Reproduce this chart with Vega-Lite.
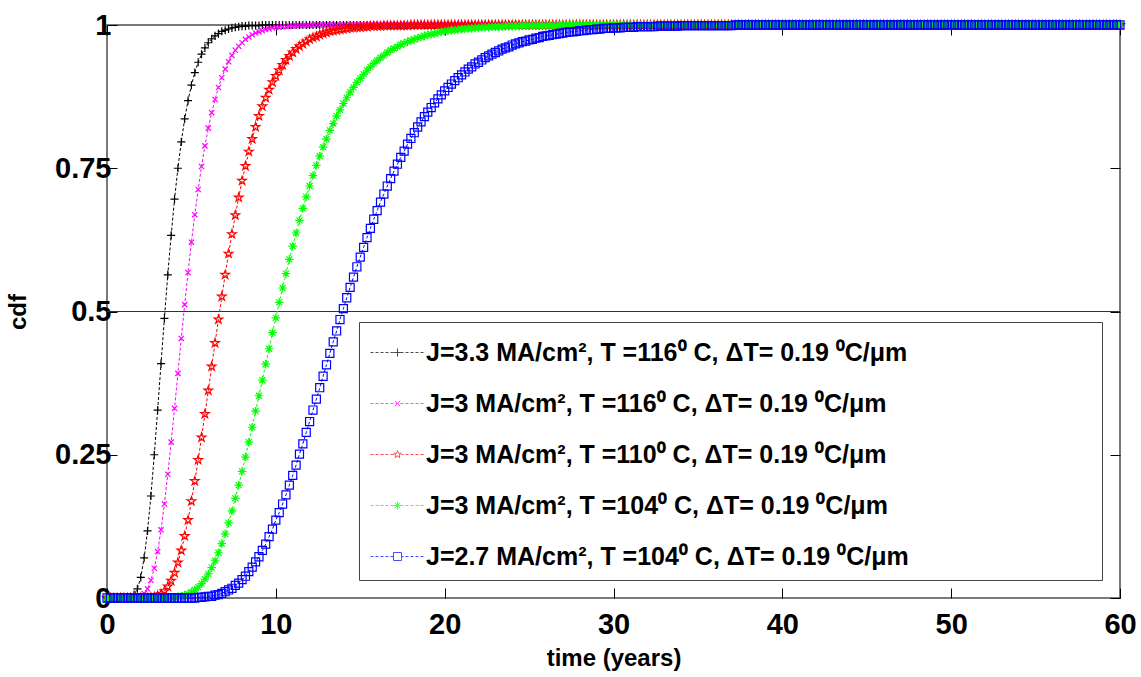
{
"$schema":"https://vega.github.io/schema/vega-lite/v6.json",
"width":1013,"height":573,
"autosize":{"type":"none"},
"padding":{"left":107,"top":25,"right":21,"bottom":79},
"background":"white",
"config":{"view":{"stroke":"#4d4d4d","strokeWidth":1.5},"font":"Liberation Sans","axis":{"labelFont":"Liberation Sans","titleFont":"Liberation Sans"}},
"data":{"values":[
{"t":0,"a":0,"b":0,"c":0,"d":0,"e":0},
{"t":0.2,"a":0,"b":0,"c":0,"d":0,"e":0},
{"t":0.4,"a":0,"b":0,"c":0,"d":0,"e":0},
{"t":0.6,"a":0,"b":0,"c":0,"d":0,"e":0},
{"t":0.8,"a":0,"b":0,"c":0,"d":0,"e":0},
{"t":1,"a":0,"b":0,"c":0,"d":0,"e":0},
{"t":1.2,"a":0,"b":0,"c":0,"d":0,"e":0},
{"t":1.4,"a":0.001,"b":0,"c":0,"d":0,"e":0},
{"t":1.6,"a":0.006,"b":0,"c":0,"d":0,"e":0},
{"t":1.8,"a":0.016,"b":0.001,"c":0,"d":0,"e":0},
{"t":2,"a":0.036,"b":0.003,"c":0,"d":0,"e":0},
{"t":2.2,"a":0.07,"b":0.008,"c":0,"d":0,"e":0},
{"t":2.4,"a":0.117,"b":0.016,"c":0,"d":0,"e":0},
{"t":2.6,"a":0.178,"b":0.031,"c":0.001,"d":0,"e":0},
{"t":2.8,"a":0.25,"b":0.052,"c":0.002,"d":0,"e":0},
{"t":3,"a":0.328,"b":0.081,"c":0.004,"d":0,"e":0},
{"t":3.2,"a":0.409,"b":0.119,"c":0.007,"d":0,"e":0},
{"t":3.4,"a":0.488,"b":0.164,"c":0.012,"d":0,"e":0},
{"t":3.6,"a":0.564,"b":0.216,"c":0.02,"d":0,"e":0},
{"t":3.8,"a":0.633,"b":0.272,"c":0.03,"d":0.001,"e":0},
{"t":4,"a":0.696,"b":0.331,"c":0.044,"d":0.001,"e":0},
{"t":4.2,"a":0.75,"b":0.392,"c":0.062,"d":0.002,"e":0},
{"t":4.4,"a":0.796,"b":0.453,"c":0.083,"d":0.003,"e":0},
{"t":4.6,"a":0.836,"b":0.512,"c":0.108,"d":0.005,"e":0},
{"t":4.8,"a":0.868,"b":0.568,"c":0.136,"d":0.007,"e":0},
{"t":5,"a":0.895,"b":0.621,"c":0.169,"d":0.01,"e":0},
{"t":5.2,"a":0.917,"b":0.669,"c":0.204,"d":0.014,"e":0},
{"t":5.4,"a":0.935,"b":0.713,"c":0.241,"d":0.019,"e":0.001},
{"t":5.6,"a":0.949,"b":0.753,"c":0.28,"d":0.025,"e":0.001},
{"t":5.8,"a":0.96,"b":0.789,"c":0.321,"d":0.033,"e":0.002},
{"t":6,"a":0.969,"b":0.82,"c":0.362,"d":0.042,"e":0.003},
{"t":6.2,"a":0.976,"b":0.847,"c":0.404,"d":0.053,"e":0.003},
{"t":6.4,"a":0.981,"b":0.87,"c":0.445,"d":0.065,"e":0.005},
{"t":6.6,"a":0.985,"b":0.891,"c":0.486,"d":0.079,"e":0.006},
{"t":6.8,"a":0.989,"b":0.908,"c":0.526,"d":0.095,"e":0.008},
{"t":7,"a":0.991,"b":0.923,"c":0.564,"d":0.112,"e":0.011},
{"t":7.2,"a":0.993,"b":0.936,"c":0.601,"d":0.131,"e":0.014},
{"t":7.4,"a":0.995,"b":0.947,"c":0.635,"d":0.152,"e":0.017},
{"t":7.6,"a":0.996,"b":0.956,"c":0.668,"d":0.174,"e":0.022},
{"t":7.8,"a":0.997,"b":0.963,"c":0.699,"d":0.197,"e":0.026},
{"t":8,"a":0.998,"b":0.969,"c":0.728,"d":0.221,"e":0.032},
{"t":8.2,"a":0.998,"b":0.975,"c":0.754,"d":0.246,"e":0.038},
{"t":8.4,"a":0.999,"b":0.979,"c":0.779,"d":0.272,"e":0.046},
{"t":8.6,"a":0.999,"b":0.983,"c":0.801,"d":0.298,"e":0.054},
{"t":8.8,"a":0.999,"b":0.986,"c":0.822,"d":0.326,"e":0.063},
{"t":9,"a":0.999,"b":0.988,"c":0.841,"d":0.353,"e":0.072},
{"t":9.2,"a":1,"b":0.99,"c":0.858,"d":0.38,"e":0.083},
{"t":9.4,"a":1,"b":0.992,"c":0.873,"d":0.408,"e":0.094},
{"t":9.6,"a":1,"b":0.993,"c":0.887,"d":0.435,"e":0.107},
{"t":9.8,"a":1,"b":0.995,"c":0.9,"d":0.463,"e":0.12},
{"t":10,"a":1,"b":0.996,"c":0.911,"d":0.489,"e":0.136},
{"t":10.2,"a":1,"b":0.996,"c":0.921,"d":0.516,"e":0.149},
{"t":10.4,"a":1,"b":0.997,"c":0.93,"d":0.541,"e":0.164},
{"t":10.6,"a":1,"b":0.997,"c":0.939,"d":0.566,"e":0.18},
{"t":10.8,"a":1,"b":0.998,"c":0.946,"d":0.591,"e":0.197},
{"t":11,"a":1,"b":0.998,"c":0.952,"d":0.614,"e":0.214},
{"t":11.2,"a":1,"b":0.999,"c":0.958,"d":0.637,"e":0.232},
{"t":11.4,"a":1,"b":0.999,"c":0.963,"d":0.659,"e":0.251},
{"t":11.6,"a":1,"b":0.999,"c":0.967,"d":0.68,"e":0.269},
{"t":11.8,"a":1,"b":0.999,"c":0.971,"d":0.7,"e":0.289},
{"t":12,"a":1,"b":0.999,"c":0.975,"d":0.719,"e":0.308},
{"t":12.2,"a":1,"b":1,"c":0.978,"d":0.737,"e":0.328},
{"t":12.4,"a":1,"b":1,"c":0.98,"d":0.755,"e":0.347},
{"t":12.6,"a":1,"b":1,"c":0.983,"d":0.771,"e":0.367},
{"t":12.8,"a":1,"b":1,"c":0.985,"d":0.787,"e":0.387},
{"t":13,"a":1,"b":1,"c":0.987,"d":0.801,"e":0.407},
{"t":13.2,"a":1,"b":1,"c":0.989,"d":0.816,"e":0.427},
{"t":13.4,"a":1,"b":1,"c":0.99,"d":0.828,"e":0.447},
{"t":13.6,"a":1,"b":1,"c":0.991,"d":0.841,"e":0.466},
{"t":13.8,"a":1,"b":1,"c":0.992,"d":0.852,"e":0.486},
{"t":14,"a":1,"b":1,"c":0.993,"d":0.863,"e":0.505},
{"t":14.2,"a":1,"b":1,"c":0.994,"d":0.873,"e":0.524},
{"t":14.4,"a":1,"b":1,"c":0.995,"d":0.883,"e":0.542},
{"t":14.6,"a":1,"b":1,"c":0.995,"d":0.891,"e":0.56},
{"t":14.8,"a":1,"b":1,"c":0.996,"d":0.9,"e":0.578},
{"t":15,"a":1,"b":1,"c":0.996,"d":0.907,"e":0.595},
{"t":15.2,"a":1,"b":1,"c":0.997,"d":0.914,"e":0.612},
{"t":15.4,"a":1,"b":1,"c":0.997,"d":0.921,"e":0.629},
{"t":15.6,"a":1,"b":1,"c":0.998,"d":0.927,"e":0.645},
{"t":15.8,"a":1,"b":1,"c":0.998,"d":0.933,"e":0.661},
{"t":16,"a":1,"b":1,"c":0.998,"d":0.938,"e":0.676},
{"t":16.2,"a":1,"b":1,"c":0.998,"d":0.943,"e":0.691},
{"t":16.4,"a":1,"b":1,"c":0.999,"d":0.947,"e":0.705},
{"t":16.6,"a":1,"b":1,"c":0.999,"d":0.952,"e":0.719},
{"t":16.8,"a":1,"b":1,"c":0.999,"d":0.956,"e":0.732},
{"t":17,"a":1,"b":1,"c":0.999,"d":0.959,"e":0.745},
{"t":17.2,"a":1,"b":1,"c":0.999,"d":0.962,"e":0.757},
{"t":17.4,"a":1,"b":1,"c":0.999,"d":0.966,"e":0.769},
{"t":17.6,"a":1,"b":1,"c":0.999,"d":0.968,"e":0.78},
{"t":17.8,"a":1,"b":1,"c":0.999,"d":0.971,"e":0.792},
{"t":18,"a":1,"b":1,"c":1,"d":0.973,"e":0.802},
{"t":18.2,"a":1,"b":1,"c":1,"d":0.975,"e":0.812},
{"t":18.4,"a":1,"b":1,"c":1,"d":0.977,"e":0.822},
{"t":18.6,"a":1,"b":1,"c":1,"d":0.979,"e":0.831},
{"t":18.8,"a":1,"b":1,"c":1,"d":0.981,"e":0.84},
{"t":19,"a":1,"b":1,"c":1,"d":0.983,"e":0.848},
{"t":19.2,"a":1,"b":1,"c":1,"d":0.984,"e":0.856},
{"t":19.4,"a":1,"b":1,"c":1,"d":0.985,"e":0.864},
{"t":19.6,"a":1,"b":1,"c":1,"d":0.987,"e":0.871},
{"t":19.8,"a":1,"b":1,"c":1,"d":0.988,"e":0.878},
{"t":20,"a":1,"b":1,"c":1,"d":0.989,"e":0.885},
{"t":20.2,"a":1,"b":1,"c":1,"d":0.99,"e":0.891},
{"t":20.4,"a":1,"b":1,"c":1,"d":0.991,"e":0.897},
{"t":20.6,"a":1,"b":1,"c":1,"d":0.991,"e":0.903},
{"t":20.8,"a":1,"b":1,"c":1,"d":0.992,"e":0.908},
{"t":21,"a":1,"b":1,"c":1,"d":0.993,"e":0.913},
{"t":21.2,"a":1,"b":1,"c":1,"d":0.993,"e":0.918},
{"t":21.4,"a":1,"b":1,"c":1,"d":0.994,"e":0.923},
{"t":21.6,"a":1,"b":1,"c":1,"d":0.994,"e":0.927},
{"t":21.8,"a":1,"b":1,"c":1,"d":0.995,"e":0.932},
{"t":22,"a":1,"b":1,"c":1,"d":0.995,"e":0.935},
{"t":22.2,"a":1,"b":1,"c":1,"d":0.996,"e":0.939},
{"t":22.4,"a":1,"b":1,"c":1,"d":0.996,"e":0.943},
{"t":22.6,"a":1,"b":1,"c":1,"d":0.996,"e":0.946},
{"t":22.8,"a":1,"b":1,"c":1,"d":0.997,"e":0.949},
{"t":23,"a":1,"b":1,"c":1,"d":0.997,"e":0.952},
{"t":23.2,"a":1,"b":1,"c":1,"d":0.997,"e":0.955},
{"t":23.4,"a":1,"b":1,"c":1,"d":0.997,"e":0.958},
{"t":23.6,"a":1,"b":1,"c":1,"d":0.998,"e":0.96},
{"t":23.8,"a":1,"b":1,"c":1,"d":0.998,"e":0.962},
{"t":24,"a":1,"b":1,"c":1,"d":0.998,"e":0.965},
{"t":24.2,"a":1,"b":1,"c":1,"d":0.998,"e":0.967},
{"t":24.4,"a":1,"b":1,"c":1,"d":0.998,"e":0.969},
{"t":24.6,"a":1,"b":1,"c":1,"d":0.999,"e":0.971},
{"t":24.8,"a":1,"b":1,"c":1,"d":0.999,"e":0.972},
{"t":25,"a":1,"b":1,"c":1,"d":0.999,"e":0.974},
{"t":25.2,"a":1,"b":1,"c":1,"d":0.999,"e":0.975},
{"t":25.4,"a":1,"b":1,"c":1,"d":0.999,"e":0.977},
{"t":25.6,"a":1,"b":1,"c":1,"d":0.999,"e":0.978},
{"t":25.8,"a":1,"b":1,"c":1,"d":0.999,"e":0.98},
{"t":26,"a":1,"b":1,"c":1,"d":0.999,"e":0.981},
{"t":26.2,"a":1,"b":1,"c":1,"d":0.999,"e":0.982},
{"t":26.4,"a":1,"b":1,"c":1,"d":0.999,"e":0.983},
{"t":26.6,"a":1,"b":1,"c":1,"d":0.999,"e":0.984},
{"t":26.8,"a":1,"b":1,"c":1,"d":1,"e":0.985},
{"t":27,"a":1,"b":1,"c":1,"d":1,"e":0.986},
{"t":27.2,"a":1,"b":1,"c":1,"d":1,"e":0.987},
{"t":27.4,"a":1,"b":1,"c":1,"d":1,"e":0.988},
{"t":27.6,"a":1,"b":1,"c":1,"d":1,"e":0.988},
{"t":27.8,"a":1,"b":1,"c":1,"d":1,"e":0.989},
{"t":28,"a":1,"b":1,"c":1,"d":1,"e":0.99},
{"t":28.2,"a":1,"b":1,"c":1,"d":1,"e":0.99},
{"t":28.4,"a":1,"b":1,"c":1,"d":1,"e":0.991},
{"t":28.6,"a":1,"b":1,"c":1,"d":1,"e":0.992},
{"t":28.8,"a":1,"b":1,"c":1,"d":1,"e":0.992},
{"t":29,"a":1,"b":1,"c":1,"d":1,"e":0.993},
{"t":29.2,"a":1,"b":1,"c":1,"d":1,"e":0.993},
{"t":29.4,"a":1,"b":1,"c":1,"d":1,"e":0.994},
{"t":29.6,"a":1,"b":1,"c":1,"d":1,"e":0.994},
{"t":29.8,"a":1,"b":1,"c":1,"d":1,"e":0.994},
{"t":30,"a":1,"b":1,"c":1,"d":1,"e":0.995},
{"t":30.2,"a":1,"b":1,"c":1,"d":1,"e":0.995},
{"t":30.4,"a":1,"b":1,"c":1,"d":1,"e":0.995},
{"t":30.6,"a":1,"b":1,"c":1,"d":1,"e":0.996},
{"t":30.8,"a":1,"b":1,"c":1,"d":1,"e":0.996},
{"t":31,"a":1,"b":1,"c":1,"d":1,"e":0.996},
{"t":31.2,"a":1,"b":1,"c":1,"d":1,"e":0.996},
{"t":31.4,"a":1,"b":1,"c":1,"d":1,"e":0.997},
{"t":31.6,"a":1,"b":1,"c":1,"d":1,"e":0.997},
{"t":31.8,"a":1,"b":1,"c":1,"d":1,"e":0.997},
{"t":32,"a":1,"b":1,"c":1,"d":1,"e":0.997},
{"t":32.2,"a":1,"b":1,"c":1,"d":1,"e":0.997},
{"t":32.4,"a":1,"b":1,"c":1,"d":1,"e":0.997},
{"t":32.6,"a":1,"b":1,"c":1,"d":1,"e":0.998},
{"t":32.8,"a":1,"b":1,"c":1,"d":1,"e":0.998},
{"t":33,"a":1,"b":1,"c":1,"d":1,"e":0.998},
{"t":33.2,"a":1,"b":1,"c":1,"d":1,"e":0.998},
{"t":33.4,"a":1,"b":1,"c":1,"d":1,"e":0.998},
{"t":33.6,"a":1,"b":1,"c":1,"d":1,"e":0.998},
{"t":33.8,"a":1,"b":1,"c":1,"d":1,"e":0.998},
{"t":34,"a":1,"b":1,"c":1,"d":1,"e":0.999},
{"t":34.2,"a":1,"b":1,"c":1,"d":1,"e":0.999},
{"t":34.4,"a":1,"b":1,"c":1,"d":1,"e":0.999},
{"t":34.6,"a":1,"b":1,"c":1,"d":1,"e":0.999},
{"t":34.8,"a":1,"b":1,"c":1,"d":1,"e":0.999},
{"t":35,"a":1,"b":1,"c":1,"d":1,"e":0.999},
{"t":35.2,"a":1,"b":1,"c":1,"d":1,"e":0.999},
{"t":35.4,"a":1,"b":1,"c":1,"d":1,"e":0.999},
{"t":35.6,"a":1,"b":1,"c":1,"d":1,"e":0.999},
{"t":35.8,"a":1,"b":1,"c":1,"d":1,"e":0.999},
{"t":36,"a":1,"b":1,"c":1,"d":1,"e":0.999},
{"t":36.2,"a":1,"b":1,"c":1,"d":1,"e":0.999},
{"t":36.4,"a":1,"b":1,"c":1,"d":1,"e":0.999},
{"t":36.6,"a":1,"b":1,"c":1,"d":1,"e":0.999},
{"t":36.8,"a":1,"b":1,"c":1,"d":1,"e":0.999},
{"t":37,"a":1,"b":1,"c":1,"d":1,"e":0.999},
{"t":37.2,"a":1,"b":1,"c":1,"d":1,"e":1},
{"t":37.4,"a":1,"b":1,"c":1,"d":1,"e":1},
{"t":37.6,"a":1,"b":1,"c":1,"d":1,"e":1},
{"t":37.8,"a":1,"b":1,"c":1,"d":1,"e":1},
{"t":38,"a":1,"b":1,"c":1,"d":1,"e":1},
{"t":38.2,"a":1,"b":1,"c":1,"d":1,"e":1},
{"t":38.4,"a":1,"b":1,"c":1,"d":1,"e":1},
{"t":38.6,"a":1,"b":1,"c":1,"d":1,"e":1},
{"t":38.8,"a":1,"b":1,"c":1,"d":1,"e":1},
{"t":39,"a":1,"b":1,"c":1,"d":1,"e":1},
{"t":39.2,"a":1,"b":1,"c":1,"d":1,"e":1},
{"t":39.4,"a":1,"b":1,"c":1,"d":1,"e":1},
{"t":39.6,"a":1,"b":1,"c":1,"d":1,"e":1},
{"t":39.8,"a":1,"b":1,"c":1,"d":1,"e":1},
{"t":40,"a":1,"b":1,"c":1,"d":1,"e":1},
{"t":40.2,"a":1,"b":1,"c":1,"d":1,"e":1},
{"t":40.4,"a":1,"b":1,"c":1,"d":1,"e":1},
{"t":40.6,"a":1,"b":1,"c":1,"d":1,"e":1},
{"t":40.8,"a":1,"b":1,"c":1,"d":1,"e":1},
{"t":41,"a":1,"b":1,"c":1,"d":1,"e":1},
{"t":41.2,"a":1,"b":1,"c":1,"d":1,"e":1},
{"t":41.4,"a":1,"b":1,"c":1,"d":1,"e":1},
{"t":41.6,"a":1,"b":1,"c":1,"d":1,"e":1},
{"t":41.8,"a":1,"b":1,"c":1,"d":1,"e":1},
{"t":42,"a":1,"b":1,"c":1,"d":1,"e":1},
{"t":42.2,"a":1,"b":1,"c":1,"d":1,"e":1},
{"t":42.4,"a":1,"b":1,"c":1,"d":1,"e":1},
{"t":42.6,"a":1,"b":1,"c":1,"d":1,"e":1},
{"t":42.8,"a":1,"b":1,"c":1,"d":1,"e":1},
{"t":43,"a":1,"b":1,"c":1,"d":1,"e":1},
{"t":43.2,"a":1,"b":1,"c":1,"d":1,"e":1},
{"t":43.4,"a":1,"b":1,"c":1,"d":1,"e":1},
{"t":43.6,"a":1,"b":1,"c":1,"d":1,"e":1},
{"t":43.8,"a":1,"b":1,"c":1,"d":1,"e":1},
{"t":44,"a":1,"b":1,"c":1,"d":1,"e":1},
{"t":44.2,"a":1,"b":1,"c":1,"d":1,"e":1},
{"t":44.4,"a":1,"b":1,"c":1,"d":1,"e":1},
{"t":44.6,"a":1,"b":1,"c":1,"d":1,"e":1},
{"t":44.8,"a":1,"b":1,"c":1,"d":1,"e":1},
{"t":45,"a":1,"b":1,"c":1,"d":1,"e":1},
{"t":45.2,"a":1,"b":1,"c":1,"d":1,"e":1},
{"t":45.4,"a":1,"b":1,"c":1,"d":1,"e":1},
{"t":45.6,"a":1,"b":1,"c":1,"d":1,"e":1},
{"t":45.8,"a":1,"b":1,"c":1,"d":1,"e":1},
{"t":46,"a":1,"b":1,"c":1,"d":1,"e":1},
{"t":46.2,"a":1,"b":1,"c":1,"d":1,"e":1},
{"t":46.4,"a":1,"b":1,"c":1,"d":1,"e":1},
{"t":46.6,"a":1,"b":1,"c":1,"d":1,"e":1},
{"t":46.8,"a":1,"b":1,"c":1,"d":1,"e":1},
{"t":47,"a":1,"b":1,"c":1,"d":1,"e":1},
{"t":47.2,"a":1,"b":1,"c":1,"d":1,"e":1},
{"t":47.4,"a":1,"b":1,"c":1,"d":1,"e":1},
{"t":47.6,"a":1,"b":1,"c":1,"d":1,"e":1},
{"t":47.8,"a":1,"b":1,"c":1,"d":1,"e":1},
{"t":48,"a":1,"b":1,"c":1,"d":1,"e":1},
{"t":48.2,"a":1,"b":1,"c":1,"d":1,"e":1},
{"t":48.4,"a":1,"b":1,"c":1,"d":1,"e":1},
{"t":48.6,"a":1,"b":1,"c":1,"d":1,"e":1},
{"t":48.8,"a":1,"b":1,"c":1,"d":1,"e":1},
{"t":49,"a":1,"b":1,"c":1,"d":1,"e":1},
{"t":49.2,"a":1,"b":1,"c":1,"d":1,"e":1},
{"t":49.4,"a":1,"b":1,"c":1,"d":1,"e":1},
{"t":49.6,"a":1,"b":1,"c":1,"d":1,"e":1},
{"t":49.8,"a":1,"b":1,"c":1,"d":1,"e":1},
{"t":50,"a":1,"b":1,"c":1,"d":1,"e":1},
{"t":50.2,"a":1,"b":1,"c":1,"d":1,"e":1},
{"t":50.4,"a":1,"b":1,"c":1,"d":1,"e":1},
{"t":50.6,"a":1,"b":1,"c":1,"d":1,"e":1},
{"t":50.8,"a":1,"b":1,"c":1,"d":1,"e":1},
{"t":51,"a":1,"b":1,"c":1,"d":1,"e":1},
{"t":51.2,"a":1,"b":1,"c":1,"d":1,"e":1},
{"t":51.4,"a":1,"b":1,"c":1,"d":1,"e":1},
{"t":51.6,"a":1,"b":1,"c":1,"d":1,"e":1},
{"t":51.8,"a":1,"b":1,"c":1,"d":1,"e":1},
{"t":52,"a":1,"b":1,"c":1,"d":1,"e":1},
{"t":52.2,"a":1,"b":1,"c":1,"d":1,"e":1},
{"t":52.4,"a":1,"b":1,"c":1,"d":1,"e":1},
{"t":52.6,"a":1,"b":1,"c":1,"d":1,"e":1},
{"t":52.8,"a":1,"b":1,"c":1,"d":1,"e":1},
{"t":53,"a":1,"b":1,"c":1,"d":1,"e":1},
{"t":53.2,"a":1,"b":1,"c":1,"d":1,"e":1},
{"t":53.4,"a":1,"b":1,"c":1,"d":1,"e":1},
{"t":53.6,"a":1,"b":1,"c":1,"d":1,"e":1},
{"t":53.8,"a":1,"b":1,"c":1,"d":1,"e":1},
{"t":54,"a":1,"b":1,"c":1,"d":1,"e":1},
{"t":54.2,"a":1,"b":1,"c":1,"d":1,"e":1},
{"t":54.4,"a":1,"b":1,"c":1,"d":1,"e":1},
{"t":54.6,"a":1,"b":1,"c":1,"d":1,"e":1},
{"t":54.8,"a":1,"b":1,"c":1,"d":1,"e":1},
{"t":55,"a":1,"b":1,"c":1,"d":1,"e":1},
{"t":55.2,"a":1,"b":1,"c":1,"d":1,"e":1},
{"t":55.4,"a":1,"b":1,"c":1,"d":1,"e":1},
{"t":55.6,"a":1,"b":1,"c":1,"d":1,"e":1},
{"t":55.8,"a":1,"b":1,"c":1,"d":1,"e":1},
{"t":56,"a":1,"b":1,"c":1,"d":1,"e":1},
{"t":56.2,"a":1,"b":1,"c":1,"d":1,"e":1},
{"t":56.4,"a":1,"b":1,"c":1,"d":1,"e":1},
{"t":56.6,"a":1,"b":1,"c":1,"d":1,"e":1},
{"t":56.8,"a":1,"b":1,"c":1,"d":1,"e":1},
{"t":57,"a":1,"b":1,"c":1,"d":1,"e":1},
{"t":57.2,"a":1,"b":1,"c":1,"d":1,"e":1},
{"t":57.4,"a":1,"b":1,"c":1,"d":1,"e":1},
{"t":57.6,"a":1,"b":1,"c":1,"d":1,"e":1},
{"t":57.8,"a":1,"b":1,"c":1,"d":1,"e":1},
{"t":58,"a":1,"b":1,"c":1,"d":1,"e":1},
{"t":58.2,"a":1,"b":1,"c":1,"d":1,"e":1},
{"t":58.4,"a":1,"b":1,"c":1,"d":1,"e":1},
{"t":58.6,"a":1,"b":1,"c":1,"d":1,"e":1},
{"t":58.8,"a":1,"b":1,"c":1,"d":1,"e":1},
{"t":59,"a":1,"b":1,"c":1,"d":1,"e":1},
{"t":59.2,"a":1,"b":1,"c":1,"d":1,"e":1},
{"t":59.4,"a":1,"b":1,"c":1,"d":1,"e":1},
{"t":59.6,"a":1,"b":1,"c":1,"d":1,"e":1},
{"t":59.8,"a":1,"b":1,"c":1,"d":1,"e":1},
{"t":60,"a":1,"b":1,"c":1,"d":1,"e":1}
]},
"transform":[{"fold":["a","b","c","d","e"],"as":["s","v"]}],
"resolve":{"axis":{"x":"independent","y":"independent"},"scale":{"shape":"independent","color":"independent"}},
"layer":[
{"data":{"values":[{"ref":0.5}]},
 "mark":{"type":"rule","color":"#333333","strokeWidth":1.2},
 "encoding":{"y":{"field":"ref","type":"quantitative","scale":{"domain":[0,1],"nice":false},"axis":null}}},
{"mark":{"type":"line","strokeWidth":1,"strokeDash":[3,2]},
 "encoding":{
  "x":{"field":"t","type":"quantitative","scale":{"domain":[0,60],"nice":false},
   "axis":{"values":[0,10,20,30,40,50,60],"tickSize":-10,"tickColor":"black","tickWidth":1,"domain":false,"grid":false,"labelFontSize":29,"labelFontWeight":"bold","labelColor":"black","labelPadding":22,"labelFlush":false,"labelOverlap":false,"title":"time (years)","titleFontSize":24,"titleFontWeight":"bold","titleColor":"black","titlePadding":7}},
  "y":{"field":"v","type":"quantitative","scale":{"domain":[0,1],"nice":false},
   "axis":{"values":[0,0.25,0.5,0.75,1],"labelExpr":"'' + datum.value","tickSize":-10,"tickColor":"black","tickWidth":1,"domain":false,"grid":false,"labelFontSize":29,"labelFontWeight":"bold","labelColor":"black","labelPadding":6,"labelOverlap":false,"title":"cdf","titleFontSize":24,"titleFontWeight":"bold","titleColor":"black","titlePadding":24}},
  "color":{"field":"s","type":"nominal","scale":{"domain":["a","b","c","d","e"],"range":["#000000","#ff00ff","#ff0000","#00ff00","#0000ff"]},"legend":null}}},
{"mark":{"type":"point","filled":false,"strokeWidth":1.2,"size":90,"opacity":1},
 "encoding":{
  "x":{"field":"t","type":"quantitative","scale":{"domain":[0,60],"nice":false},"axis":null},
  "y":{"field":"v","type":"quantitative","scale":{"domain":[0,1],"nice":false},"axis":null},
  "color":{"field":"s","type":"nominal","scale":{"domain":["a","b","c","d","e"],"range":["#000000","#ff00ff","#ff0000","#00ff00","#0000ff"]},"legend":null},
  "order":{"field":"s","type":"ordinal"},
  "shape":{"field":"s","type":"nominal","legend":null,"scale":{"domain":["a","b","c","d","e"],"range":["M-0.85,0H0.85M0,-0.85V0.85","M-0.55,-0.55L0.55,0.55M-0.55,0.55L0.55,-0.55","M0,-0.95L0.214,-0.294L0.903,-0.294L0.345,0.112L0.559,0.769L0,0.363L-0.559,0.769L-0.345,0.112L-0.903,-0.294L-0.214,-0.294Z","M-0.9,0H0.9M0,-0.9V0.9M-0.63,-0.63L0.63,0.63M-0.63,0.63L0.63,-0.63","M-0.85,-0.85H0.85V0.85H-0.85Z"]}}}},
{"transform":[{"filter":"false"}],
 "mark":{"type":"point","filled":false,"strokeWidth":1},
 "encoding":{
  "x":{"field":"t","type":"quantitative","scale":{"domain":[0,60],"nice":false},"axis":{"orient":"top","values":[0,10,20,30,40,50,60],"labels":false,"domain":false,"grid":false,"title":null,"tickSize":-10,"tickColor":"black","tickWidth":1}},
  "y":{"field":"v","type":"quantitative","scale":{"domain":[0,1],"nice":false},"axis":{"orient":"right","values":[0,0.25,0.5,0.75,1],"labels":false,"domain":false,"grid":false,"title":null,"tickSize":-10,"tickColor":"black","tickWidth":1}},
  "color":{"field":"s","type":"nominal","scale":{"domain":["a","b","c","d","e"],"range":["#000000","#ff00ff","#ff0000","#00ff00","#0000ff"]},
   "legend":{"title":"\u00a0","titleOrient":"right","titlePadding":183,"orient":"bottom-right","offset":18,"symbolSize":1600,"symbolStrokeWidth":1,"symbolOffset":8,"labelFontSize":25,"labelFont":"Liberation Sans","labelFontWeight":"bold","labelColor":"black","labelOffset":8,"labelLimit":0,"rowPadding":17,"padding":10,"strokeColor":"#444444","fillColor":"white",
    "labelExpr":"datum.value == 'a' ? 'J=3.3 MA/cm\u00b2, T =116\u2070 C, \u0394T= 0.19 \u2070C/\u03bcm' : datum.value == 'b' ? 'J=3 MA/cm\u00b2, T =116\u2070 C, \u0394T= 0.19 \u2070C/\u03bcm' : datum.value == 'c' ? 'J=3 MA/cm\u00b2, T =110\u2070 C, \u0394T= 0.19 \u2070C/\u03bcm' : datum.value == 'd' ? 'J=3 MA/cm\u00b2, T =104\u2070 C, \u0394T= 0.19 \u2070C/\u03bcm' : 'J=2.7 MA/cm\u00b2, T =104\u2070 C, \u0394T= 0.19 \u2070C/\u03bcm'"}},
  "shape":{"field":"s","type":"nominal","scale":{"domain":["a","b","c","d","e"],"range":[
   "M-1.35,0H-1.2M-1.1,0H-0.95M-0.85,0H-0.7M-0.6,0H-0.45M-0.35,0H-0.2M-0.1,0H0.05M0.15,0H0.3M0.4,0H0.55M0.65,0H0.8M0.9,0H1.05M1.15,0H1.3M-0.2,0H0.2M0,-0.2V0.2",
   "M-1.35,0H-1.2M-1.1,0H-0.95M-0.85,0H-0.7M-0.6,0H-0.45M-0.35,0H-0.2M-0.1,0H0.05M0.15,0H0.3M0.4,0H0.55M0.65,0H0.8M0.9,0H1.05M1.15,0H1.3M-0.13,-0.13L0.13,0.13M-0.13,0.13L0.13,-0.13",
   "M-1.35,0H-1.2M-1.1,0H-0.95M-0.85,0H-0.7M-0.6,0H-0.45M-0.35,0H-0.2M0.2,0H0.3M0.4,0H0.55M0.65,0H0.8M0.9,0H1.05M1.15,0H1.3M0,-0.2L0.045,-0.062L0.19,-0.062L0.073,0.024L0.118,0.162L0,0.076L-0.118,0.162L-0.073,0.024L-0.19,-0.062L-0.045,-0.062Z",
   "M-1.35,0H-1.2M-1.1,0H-0.95M-0.85,0H-0.7M-0.6,0H-0.45M-0.35,0H-0.2M-0.1,0H0.05M0.15,0H0.3M0.4,0H0.55M0.65,0H0.8M0.9,0H1.05M1.15,0H1.3M-0.2,0H0.2M0,-0.2V0.2M-0.14,-0.14L0.14,0.14M-0.14,0.14L0.14,-0.14",
   "M-1.35,0H-1.2M-1.1,0H-0.95M-0.85,0H-0.7M-0.6,0H-0.45M-0.35,0H-0.2M0.2,0H0.3M0.4,0H0.55M0.65,0H0.8M0.9,0H1.05M1.15,0H1.3M-0.2,-0.2H0.2V0.2H-0.2Z"]},
   "legend":{"title":"\u00a0","titleOrient":"right","titlePadding":183,"orient":"bottom-right","offset":18,"symbolSize":1600,"symbolStrokeWidth":1,"symbolOffset":8,"labelFontSize":25,"labelFont":"Liberation Sans","labelFontWeight":"bold","labelColor":"black","labelOffset":8,"labelLimit":0,"rowPadding":17,"padding":10,"strokeColor":"#444444","fillColor":"white",
    "labelExpr":"datum.value == 'a' ? 'J=3.3 MA/cm\u00b2, T =116\u2070 C, \u0394T= 0.19 \u2070C/\u03bcm' : datum.value == 'b' ? 'J=3 MA/cm\u00b2, T =116\u2070 C, \u0394T= 0.19 \u2070C/\u03bcm' : datum.value == 'c' ? 'J=3 MA/cm\u00b2, T =110\u2070 C, \u0394T= 0.19 \u2070C/\u03bcm' : datum.value == 'd' ? 'J=3 MA/cm\u00b2, T =104\u2070 C, \u0394T= 0.19 \u2070C/\u03bcm' : 'J=2.7 MA/cm\u00b2, T =104\u2070 C, \u0394T= 0.19 \u2070C/\u03bcm'"}}}}
]
}
